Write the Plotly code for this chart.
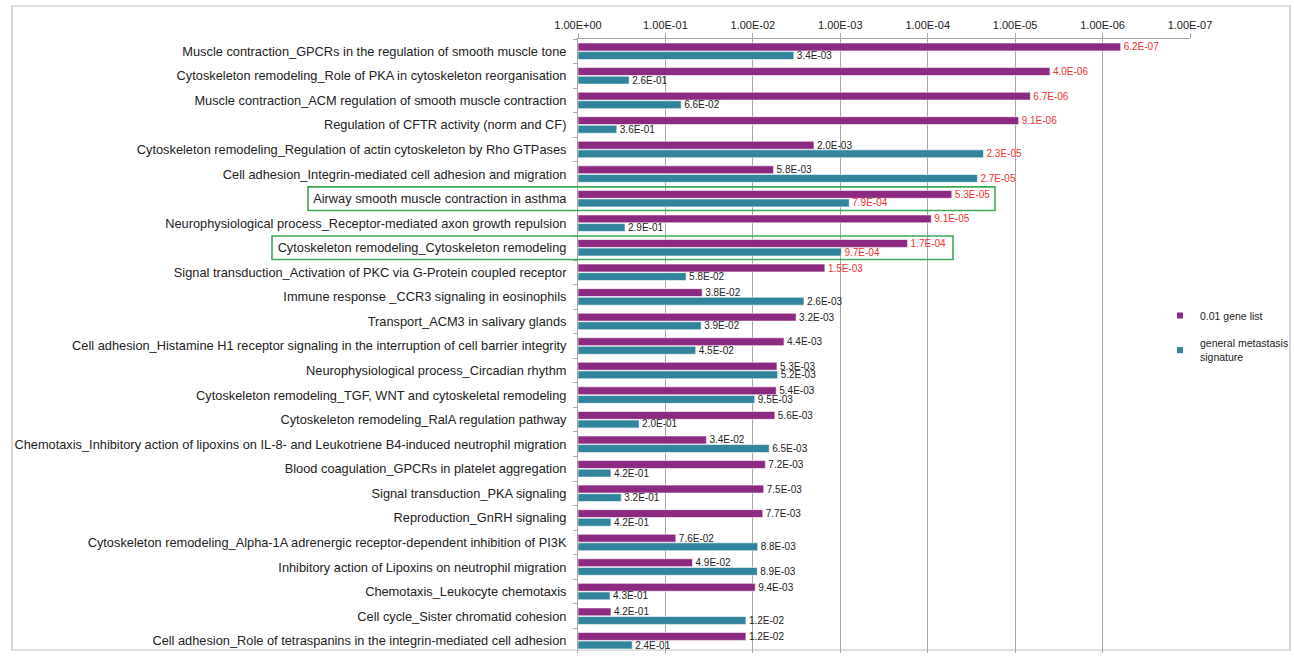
import plotly.graph_objects as go

categories = [
    "Muscle contraction_GPCRs in the regulation of smooth muscle tone",
    "Cytoskeleton remodeling_Role of PKA in cytoskeleton reorganisation",
    "Muscle contraction_ACM regulation of smooth muscle contraction",
    "Regulation of CFTR activity (norm and CF)",
    "Cytoskeleton remodeling_Regulation of actin cytoskeleton by Rho GTPases",
    "Cell adhesion_Integrin-mediated cell adhesion and migration",
    "Airway smooth muscle contraction in asthma",
    "Neurophysiological process_Receptor-mediated axon growth repulsion",
    "Cytoskeleton remodeling_Cytoskeleton remodeling",
    "Signal transduction_Activation of PKC via G-Protein coupled receptor",
    "Immune response _CCR3 signaling in eosinophils",
    "Transport_ACM3 in salivary glands",
    "Cell adhesion_Histamine H1 receptor signaling in the interruption of cell barrier integrity",
    "Neurophysiological process_Circadian rhythm",
    "Cytoskeleton remodeling_TGF, WNT and cytoskeletal remodeling",
    "Cytoskeleton remodeling_RalA regulation pathway",
    "Chemotaxis_Inhibitory action of lipoxins on IL-8- and Leukotriene B4-induced neutrophil migration",
    "Blood coagulation_GPCRs in platelet aggregation",
    "Signal transduction_PKA signaling",
    "Reproduction_GnRH signaling",
    "Cytoskeleton remodeling_Alpha-1A adrenergic receptor-dependent inhibition of PI3K",
    "Inhibitory action of Lipoxins on neutrophil migration",
    "Chemotaxis_Leukocyte chemotaxis",
    "Cell cycle_Sister chromatid cohesion",
    "Cell adhesion_Role of tetraspanins in the integrin-mediated cell adhesion",
]

gene_list_001 = [6.2e-07, 4.0e-06, 6.7e-06, 9.1e-06, 2.0e-03, 5.8e-03, 5.3e-05, 9.1e-05,
                 1.7e-04, 1.5e-03, 3.8e-02, 3.2e-03, 4.4e-03, 5.3e-03, 5.4e-03, 5.6e-03,
                 3.4e-02, 7.2e-03, 7.5e-03, 7.7e-03, 7.6e-02, 4.9e-02, 9.4e-03, 4.2e-01, 1.2e-02]

general_metastasis = [3.4e-03, 2.6e-01, 6.6e-02, 3.6e-01, 2.3e-05, 2.7e-05, 7.9e-04, 2.9e-01,
                      9.7e-04, 5.8e-02, 2.6e-03, 3.9e-02, 4.5e-02, 5.2e-03, 9.5e-03, 2.0e-01,
                      6.5e-03, 4.2e-01, 3.2e-01, 4.2e-01, 8.8e-03, 8.9e-03, 4.3e-01, 1.2e-02, 2.4e-01]

tick_vals = [1, 1e-1, 1e-2, 1e-3, 1e-4, 1e-5, 1e-6, 1e-7]
tick_text = ["1.00E+00", "1.00E-01", "1.00E-02", "1.00E-03", "1.00E-04", "1.00E-05", "1.00E-06", "1.00E-07"]

highlighted = ["Airway smooth muscle contraction in asthma",
               "Cytoskeleton remodeling_Cytoskeleton remodeling"]

PURPLE = "#8B2A80"
TEAL = "#31849B"
RED = "#F03030"
DARK = "#222222"
RED_THRESHOLD = 1.8e-3


def labels(vals):
    return [f"{v:.1E}" for v in vals]


def label_colors(vals):
    return [RED if v < RED_THRESHOLD else DARK for v in vals]


fig = go.Figure()
for name, vals, col in [("0.01 gene list", gene_list_001, PURPLE),
                        ("general metastasis signature", general_metastasis, TEAL)]:
    fig.add_trace(go.Bar(
        y=categories, x=[v - 1 for v in vals], base=[1] * len(vals),
        orientation="h", name=name, marker=dict(color=col, line=dict(color="white", width=0.6)),
        text=labels(vals), textposition="outside", cliponaxis=False, constraintext="none",
        textfont=dict(color=label_colors(vals), size=10, family="Liberation Sans, Arial"),
        showlegend=False, hoverinfo="skip",
    ))

# legend entries with small square markers
fig.add_trace(go.Scatter(x=[None], y=[None], mode="markers", name="0.01 gene list",
                         legendgroup="a",
                         marker=dict(symbol="square", size=6, color=PURPLE)))
fig.add_trace(go.Scatter(x=[None], y=[None], mode="markers", name="general metastasis<br>signature",
                         legendgroup="b",
                         marker=dict(symbol="square", size=6, color=TEAL)))

L, R, T, B = 578, 104, 39, 4
W, H = 1294, 657
pw = W - L - R
ph = H - T - B


def px(x):
    return (x - L) / pw


def py(y):
    return (H - B - y) / ph


shapes = [
    dict(type="rect", xref="paper", yref="paper", x0=px(12), x1=px(1290), y0=py(650), y1=py(6),
         line=dict(color="#BDBDBD", width=1.2), layer="below"),
]
box_left = {highlighted[0]: 308, highlighted[1]: 272}
box_right = {highlighted[0]: 995, highlighted[1]: 953}
for h in highlighted:
    i = categories.index(h)
    shapes.append(dict(type="rect", xref="paper", yref="y", x0=px(box_left[h]), x1=px(box_right[h]),
                       y0=i - 0.48, y1=i + 0.48, line=dict(color="#3CA957", width=1.6)))

fig.update_layout(
    width=W, height=H,
    margin=dict(l=L, r=R, t=T, b=B, autoexpand=False),
    paper_bgcolor="white", plot_bgcolor="white",
    barmode="group", bargap=0.3, bargroupgap=0.08,
    font=dict(family="Liberation Sans, Arial", size=12.8, color="#222222"),
    xaxis=dict(type="log", range=[0, -7], side="top", tickvals=tick_vals, ticktext=tick_text,
               showgrid=True, gridcolor="#A6A6A6", gridwidth=1,
               showline=True, linecolor="#A6A6A6", ticks="outside", ticklen=5, tickcolor="#A6A6A6",
               tickfont=dict(size=11, color="#222222"), zeroline=False, mirror=False),
    yaxis=dict(autorange="reversed", type="category", showline=True, linecolor="#A6A6A6",
               ticks="outside", tickson="boundaries", ticklen=4, tickcolor="#A6A6A6",
               ticklabelstandoff=8,
               tickfont=dict(size=12.8, color="#222222"), showgrid=False),
    legend=dict(x=px(1160), y=py(301), xanchor="left", yanchor="top",
                font=dict(size=10.5, color="#222222"), itemwidth=30, tracegroupgap=10,
                bgcolor="rgba(0,0,0,0)"),
    shapes=shapes,
)

fig.write_html("out.html")
